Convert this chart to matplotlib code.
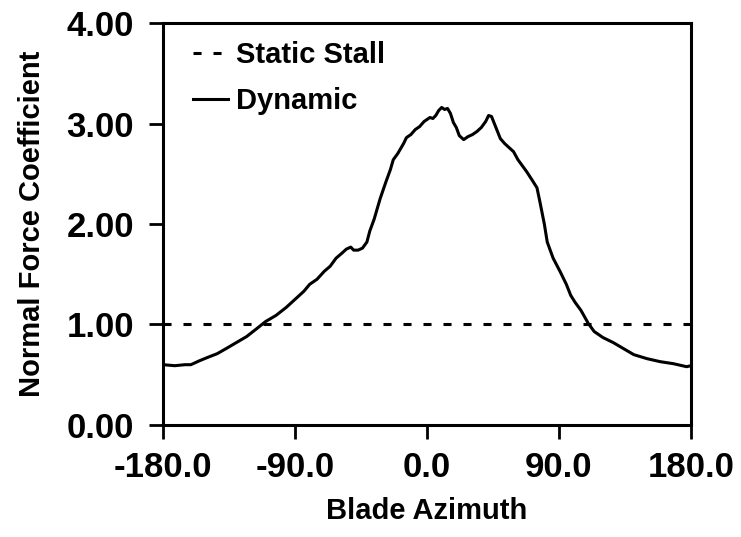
import matplotlib
matplotlib.use('Agg')
import matplotlib.pyplot as plt

# Normal force coefficient vs blade azimuth
azimuth = [-180, -172, -165, -161, -155, -150, -143, -137, -130, -123, -116,
           -110, -103, -96, -90, -84, -80, -75, -70, -66, -62, -58, -55,
           -52, -50, -47, -44, -41, -39, -36, -32, -28, -25, -23, -20,
           -18, -16, -14, -11, -8, -5, -2, 0, 2, 4, 6, 8, 10, 12, 14,
           16, 18, 20, 22, 25, 28, 31, 34, 37, 40, 42, 44, 47, 50, 53,
           56, 59, 62, 65, 68, 72, 75, 77, 80, 82, 86, 91, 95, 98, 101,
           105, 110, 114, 120, 127, 134, 141, 150, 159, 168, 177, 180]
cn_dynamic = [0.60, 0.59, 0.60, 0.60, 0.64, 0.67, 0.71, 0.76, 0.82, 0.88, 0.96,
              1.03, 1.09, 1.17, 1.25, 1.33, 1.40, 1.45, 1.53, 1.58, 1.66, 1.71, 1.75,
              1.77, 1.74, 1.74, 1.76, 1.82, 1.93, 2.05, 2.25, 2.42, 2.54, 2.64, 2.70,
              2.75, 2.80, 2.86, 2.89, 2.94, 2.97, 3.02, 3.04, 3.06, 3.05, 3.08, 3.13,
              3.16, 3.14, 3.15, 3.10, 3.01, 2.96, 2.88, 2.84, 2.87, 2.89, 2.92, 2.96,
              3.02, 3.08, 3.07, 2.96, 2.85, 2.80, 2.76, 2.72, 2.64, 2.58, 2.52, 2.43,
              2.36, 2.22, 2.00, 1.82, 1.66, 1.52, 1.40, 1.29, 1.22, 1.14, 1.01, 0.93,
              0.87, 0.82, 0.76, 0.70, 0.66, 0.63, 0.61, 0.58, 0.59]
stall_x = [-180, 180]
stall_y = [1.0, 1.0]

plt.rcParams['font.family'] = ['Liberation Sans', 'DejaVu Sans']
plt.rcParams['font.weight'] = 'bold'
plt.rcParams['lines.scale_dashes'] = False

fig = plt.figure(figsize=(7.41, 5.37), dpi=100)
ax = fig.add_axes([0.22, 0.2086, 0.7125, 0.7485])

ax.plot(stall_x, stall_y, color='black', lw=2.2, dashes=(5.8, 8.6),
        label='Static Stall')
ax.plot(azimuth, cn_dynamic, color='black', lw=2.2, label='Dynamic')

ax.set_xlim(-180, 180)
ax.set_ylim(0, 4)
ax.set_xticks([-180, -90, 0, 90, 180])
ax.set_xticklabels(['-180.0', '-90.0', '0.0', '90.0', '180.0'])
ax.set_yticks([0, 1, 2, 3, 4])
ax.set_yticklabels(['0.00', '1.00', '2.00', '3.00', '4.00'])
ax.tick_params(direction='out', length=10, width=2, labelsize=25)
ax.tick_params(axis='y', pad=11)
ax.tick_params(axis='x', pad=9)
for lbl in ax.get_xticklabels() + ax.get_yticklabels():
    lbl.set_fontweight('bold')
for s in ax.spines.values():
    s.set_linewidth(2.2)

ax.set_xlabel('Blade Azimuth', fontsize=21, fontweight='bold', labelpad=9)
ax.set_ylabel('Normal Force Coefficient', fontsize=21, fontweight='bold', labelpad=15)

leg = ax.legend(loc='upper left', frameon=False, fontsize=21, handlelength=1.2,
                handletextpad=0.3, labelspacing=0.62,
                bbox_to_anchor=(0.034, 0.985), borderaxespad=0)
for t in leg.get_texts():
    t.set_fontweight('bold')

fig.savefig('out.png', dpi=100)
